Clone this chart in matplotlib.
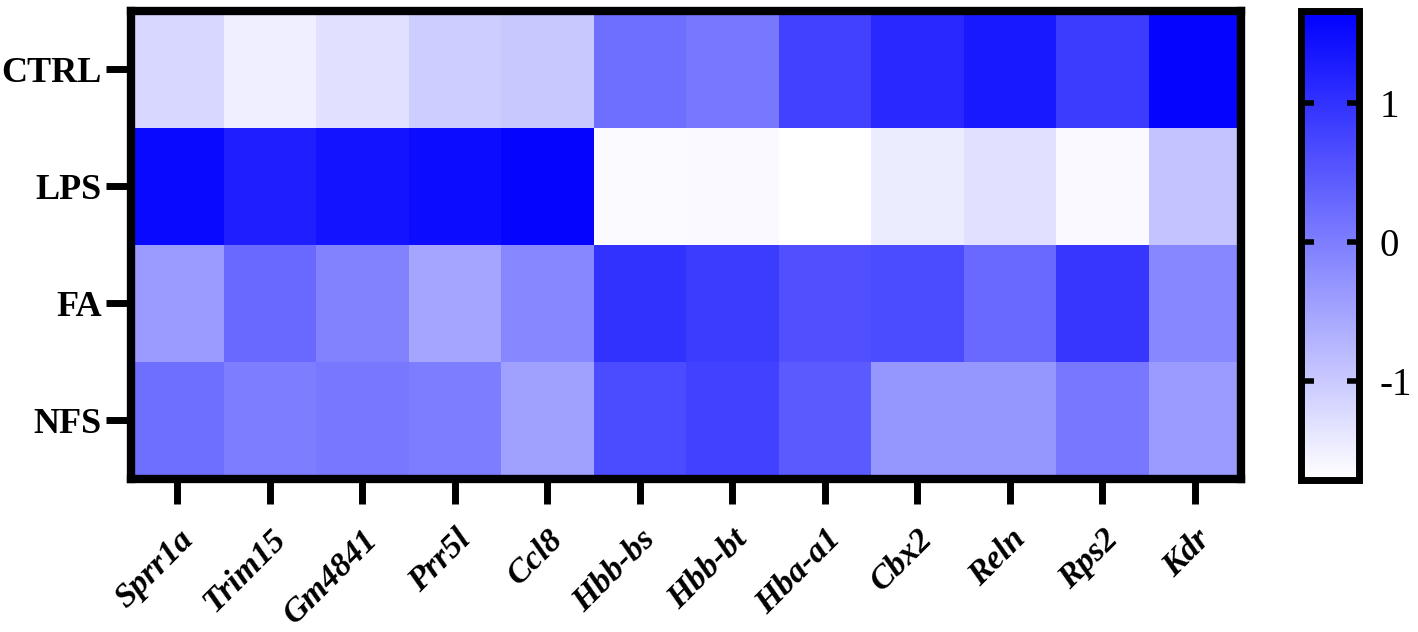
import numpy as np
import matplotlib
matplotlib.use('Agg')
import matplotlib.pyplot as plt
from matplotlib.colors import LinearSegmentedColormap

# -----------------------------------------------------------------------
# Data (z-scores)
# -----------------------------------------------------------------------
groups = ['CTRL', 'LPS', 'FA', 'NFS']
genes = ['Sprr1a', 'Trim15', 'Gm4841', 'Prr5l', 'Ccl8', 'Hbb-bs',
         'Hbb-bt', 'Hba-a1', 'Cbx2', 'Reln', 'Rps2', 'Kdr']

ctrl = [-1.18, -1.49, -1.31, -1.05, -0.98, 0.21, 0.07, 0.80, 1.13, 1.33, 0.87, 1.60]
lps  = [1.53, 1.26, 1.40, 1.50, 1.60, -1.64, -1.62, -1.71, -1.45, -1.31, -1.62, -0.92]
fa   = [-0.39, 0.27, -0.06, -0.52, -0.12, 1.00, 0.87, 0.60, 0.67, 0.27, 0.94, -0.12]
nfs  = [0.21, 0.01, 0.07, 0.01, -0.45, 0.67, 0.80, 0.47, -0.32, -0.32, 0.07, -0.39]

vmin, vmax = -1.71, 1.66
cbar_ticks = [-1, 0, 1]

data = np.array([ctrl, lps, fa, nfs])

plt.rcParams['font.family'] = ['Liberation Serif', 'DejaVu Serif']

cmap = LinearSegmentedColormap.from_list('wb', ['#ffffff', '#0000ff'])

fig = plt.figure(figsize=(14.18, 6.32), dpi=100)
ax = fig.add_axes([0.0924, 0.2421, 0.7828, 0.7405])
cax = fig.add_axes([0.9175, 0.2405, 0.0409, 0.742])

im = ax.pcolormesh(data, cmap=cmap, vmin=vmin, vmax=vmax)
ax.set_xlim(0, len(genes))
ax.set_ylim(len(groups), 0)

ax.set_xticks(np.arange(len(genes)) + 0.5)
ax.set_xticklabels(genes, rotation=45, ha='right', rotation_mode='anchor',
                   fontsize=24.5, fontweight='bold', fontstyle='italic')
ax.set_yticks(np.arange(len(groups)) + 0.5)
ax.set_yticklabels(groups, fontsize=26, fontweight='bold')
ax.tick_params(axis='both', direction='out', length=18, width=5, pad=3)
ax.tick_params(axis='x', pad=14)
for sp in ax.spines.values():
    sp.set_linewidth(6)

cb = fig.colorbar(im, cax=cax, ticks=cbar_ticks)
cb.outline.set_linewidth(5)
cax.tick_params(axis='y', direction='in', length=9, width=4,
                left=True, right=True, labelsize=28, pad=15)
cax.set_yticklabels([str(t) for t in cbar_ticks])

fig.savefig('out.png', dpi=100)
